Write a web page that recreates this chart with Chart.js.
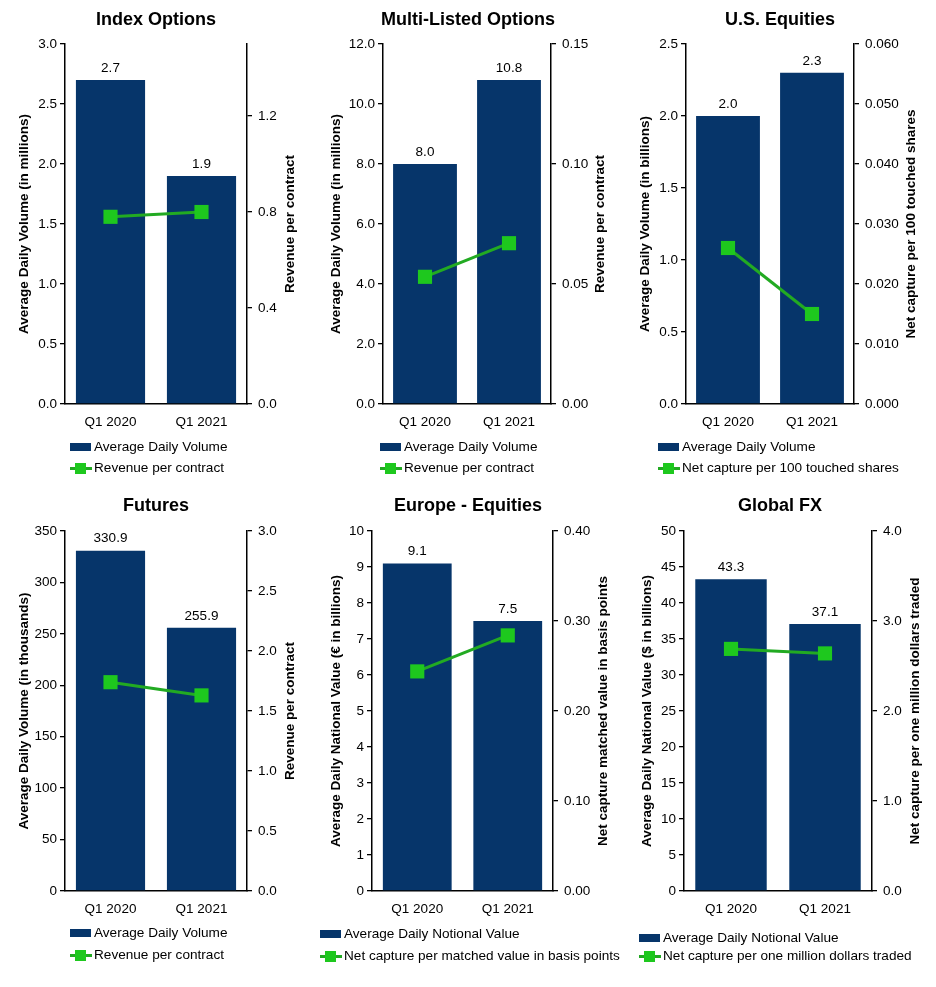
<!DOCTYPE html>
<html><head><meta charset="utf-8">
<script src="https://cdn.jsdelivr.net/npm/chart.js@4"></script>
<style>
body{margin:0;background:#fff;width:936px;height:987px;position:relative;overflow:hidden;font-family:Arial,"Liberation Sans",sans-serif;}
canvas{position:absolute;}
.leg{position:absolute;font-size:13.6px;color:#000;white-space:nowrap;line-height:16px;}
.sw{position:absolute;}
</style></head><body>
<script>
// ---- data ----
const categories = ['Q1 2020', 'Q1 2021'];

const indexOptionsVolume = [2.7, 1.9];
const indexOptionsRevenue = [0.78, 0.80];
const multiListedVolume = [8.0, 10.8];
const multiListedRevenue = [0.053, 0.067];
const usEquitiesVolume = [2.0, 2.3];
const usEquitiesCapture = [0.026, 0.015];
const futuresVolume = [330.9, 255.9];
const futuresRevenue = [1.74, 1.63];
const europeValue = [9.1, 7.5];
const europeCapture = [0.244, 0.284];
const fxValue = [43.3, 37.1];
const fxCapture = [2.69, 2.64];

const indexLeftTicks = [0, 0.5, 1.0, 1.5, 2.0, 2.5, 3.0];
const indexRightTicks = [0, 0.4, 0.8, 1.2];
const multiLeftTicks = [0, 2, 4, 6, 8, 10, 12];
const multiRightTicks = [0, 0.05, 0.10, 0.15];
const usLeftTicks = [0, 0.5, 1.0, 1.5, 2.0, 2.5];
const usRightTicks = [0, 0.01, 0.02, 0.03, 0.04, 0.05, 0.06];
const futuresLeftTicks = [0, 50, 100, 150, 200, 250, 300, 350];
const futuresRightTicks = [0, 0.5, 1.0, 1.5, 2.0, 2.5, 3.0];
const europeLeftTicks = [0, 1, 2, 3, 4, 5, 6, 7, 8, 9, 10];
const europeRightTicks = [0, 0.10, 0.20, 0.30, 0.40];
const fxLeftTicks = [0, 5, 10, 15, 20, 25, 30, 35, 40, 45, 50];
const fxRightTicks = [0, 1.0, 2.0, 3.0, 4.0];

// ---- panel layout ----
const BAR_COLOR = '#06356a';
const LINE_COLOR = '#22aa22';
const MARK_COLOR = '#1ec81e';

const panels = [
  {title:'Index Options', x:0, y:0, h:440, titleTop:9.2, titleBottom:13.2, leftW:65, rightW:65,
   leftMax:3.0, rightMax:1.5, leftTicks:indexLeftTicks, rightTicks:indexRightTicks, leftDec:1, rightDec:1,
   leftTitle:'Average Daily Volume (in millions)', rightTitle:'Revenue per contract', ltx:24, rtx:290,
   bars:indexOptionsVolume, line:indexOptionsRevenue, barLabel:'Average Daily Volume', lineLabel:'Revenue per contract',
   legX:70, legRectY:447, legLineY:468},
  {title:'Multi-Listed Options', x:312, y:0, h:440, titleTop:9.2, titleBottom:13.2, leftW:71, rightW:73,
   leftMax:12, rightMax:0.15, leftTicks:multiLeftTicks, rightTicks:multiRightTicks, leftDec:1, rightDec:2,
   leftTitle:'Average Daily Volume (in millions)', rightTitle:'Revenue per contract', ltx:24, rtx:288,
   bars:multiListedVolume, line:multiListedRevenue, barLabel:'Average Daily Volume', lineLabel:'Revenue per contract',
   legX:380, legRectY:447, legLineY:468},
  {title:'U.S. Equities', x:624, y:0, h:440, titleTop:9.2, titleBottom:13.2, leftW:62, rightW:82,
   leftMax:2.5, rightMax:0.06, leftTicks:usLeftTicks, rightTicks:usRightTicks, leftDec:1, rightDec:3,
   leftTitle:'Average Daily Volume (in billions)', rightTitle:'Net capture per 100 touched shares', ltx:21, rtx:287,
   bars:usEquitiesVolume, line:usEquitiesCapture, barLabel:'Average Daily Volume', lineLabel:'Net capture per 100 touched shares',
   legX:658, legRectY:447, legLineY:468},
  {title:'Futures', x:0, y:490, h:437, titleTop:4.9, titleBottom:14.5, leftW:65, rightW:65,
   leftMax:350, rightMax:3.0, leftTicks:futuresLeftTicks, rightTicks:futuresRightTicks, leftDec:0, rightDec:1,
   leftTitle:'Average Daily Volume (in thousands)', rightTitle:'Revenue per contract', ltx:24, rtx:290,
   bars:futuresVolume, line:futuresRevenue, barLabel:'Average Daily Volume', lineLabel:'Revenue per contract',
   legX:70, legRectY:933, legLineY:955},
  {title:'Europe - Equities', x:312, y:490, h:437, titleTop:4.9, titleBottom:14.5, leftW:60, rightW:71,
   leftMax:10, rightMax:0.40, leftTicks:europeLeftTicks, rightTicks:europeRightTicks, leftDec:0, rightDec:2,
   leftTitle:'Average Daily National Value (€ in billions)', rightTitle:'Net capture matched value in basis points', ltx:24, rtx:291,
   bars:europeValue, line:europeCapture, barLabel:'Average Daily Notional Value', lineLabel:'Net capture per matched value in basis points',
   legX:320, legRectY:934, legLineY:956},
  {title:'Global FX', x:624, y:490, h:437, titleTop:4.9, titleBottom:14.5, leftW:60, rightW:64,
   leftMax:50, rightMax:4.0, leftTicks:fxLeftTicks, rightTicks:fxRightTicks, leftDec:0, rightDec:1,
   leftTitle:'Average Daily National Value ($ in billions)', rightTitle:'Net capture per one million dollars traded', ltx:23, rtx:291,
   bars:fxValue, line:fxCapture, barLabel:'Average Daily Notional Value', lineLabel:'Net capture per one million dollars traded',
   legX:639, legRectY:938, legLineY:956}
];

const FONT = 'Arial, "Liberation Sans", sans-serif';
Chart.defaults.font.family = FONT;
Chart.defaults.color = '#000';

const extrasPlugin = {
  id: 'extras',
  afterDatasetsDraw(chart, args, opts) {
    const ctx = chart.ctx;
    const meta = chart.getDatasetMeta(0);
    ctx.save();
    ctx.font = '13.5px ' + FONT;
    ctx.fillStyle = '#000';
    ctx.textAlign = 'center';
    ctx.textBaseline = 'middle';
    meta.data.forEach((el, i) => {
      const v = chart.data.datasets[0].data[i];
      ctx.fillText(v.toFixed(1), el.x, el.y - 12);
    });
    ctx.restore();
  },
  afterDraw(chart, args, opts) {
    const ctx = chart.ctx;
    const ca = chart.chartArea;
    const cy = (ca.top + ca.bottom) / 2;
    ctx.save();
    ctx.font = 'bold 13.5px ' + FONT;
    ctx.fillStyle = '#000';
    ctx.textAlign = 'center';
    ctx.textBaseline = 'middle';
    [[opts.ltx, opts.leftTitle], [opts.rtx, opts.rightTitle]].forEach(([x, t]) => {
      ctx.save();
      ctx.translate(x, cy);
      ctx.rotate(-Math.PI / 2);
      ctx.fillText(t, 0, 0);
      ctx.restore();
    });
    ctx.restore();
  }
};

function yScale(p, side) {
  const left = side === 'left';
  const ticks = left ? p.leftTicks : p.rightTicks;
  const dec = left ? p.leftDec : p.rightDec;
  return {
    position: side,
    min: 0,
    max: left ? p.leftMax : p.rightMax,
    afterBuildTicks(s) { s.ticks = ticks.map(v => ({value: v})); },
    afterFit(s) { s.width = left ? p.leftW : p.rightW; },
    ticks: { callback: v => Number(v).toFixed(dec), color: '#000', font: {size: 13.5}, padding: left ? 3 : 6 },
    grid: { drawOnChartArea: false, drawTicks: true, tickLength: 5, color: '#000', lineWidth: 1.3 },
    border: { display: true, color: '#000', width: 1.5 }
  };
}

panels.forEach(p => {
  const c = document.createElement('canvas');
  c.width = 312; c.height = p.h;
  c.style.left = p.x + 'px'; c.style.top = p.y + 'px';
  c.style.width = '312px'; c.style.height = p.h + 'px';
  document.body.appendChild(c);

  new Chart(c, {
    data: {
      labels: categories,
      datasets: [
        { type: 'bar', label: p.barLabel, data: p.bars, yAxisID: 'y', backgroundColor: BAR_COLOR,
          barPercentage: 0.76, categoryPercentage: 1, order: 1 },
        { type: 'line', label: p.lineLabel, data: p.line, yAxisID: 'y1', borderColor: LINE_COLOR, borderWidth: 3,
          pointStyle: 'rect', pointRadius: 10, pointHoverRadius: 10, pointBackgroundColor: MARK_COLOR,
          pointBorderColor: MARK_COLOR, pointBorderWidth: 0, fill: false, tension: 0, order: 0 }
      ]
    },
    options: {
      responsive: false,
      animation: false,
      layout: { padding: 0 },
      plugins: {
        legend: { display: false },
        tooltip: { enabled: false },
        title: { display: true, text: p.title, color: '#000', font: {size: 18, weight: 'bold'},
                 padding: {top: p.titleTop, bottom: p.titleBottom} },
        extras: { ltx: p.ltx, rtx: p.rtx, leftTitle: p.leftTitle, rightTitle: p.rightTitle }
      },
      scales: {
        x: {
          type: 'category', offset: true,
          grid: { display: false, drawTicks: false },
          border: { display: true, color: '#000', width: 1.5 },
          ticks: { color: '#000', font: {size: 13.5}, padding: 10 },
          afterFit(s) { s.height = p.h - (p.y === 0 ? 404 : 401); }
        },
        y: yScale(p, 'left'),
        y1: yScale(p, 'right')
      }
    },
    plugins: [extrasPlugin]
  });

  // legend (HTML)
  const rect = document.createElement('div');
  rect.className = 'sw';
  rect.style.cssText = `left:${p.legX}px;top:${p.legRectY - 4}px;width:21px;height:8px;background:${BAR_COLOR};`;
  document.body.appendChild(rect);
  const t1 = document.createElement('div');
  t1.className = 'leg';
  t1.style.left = (p.legX + 24) + 'px'; t1.style.top = (p.legRectY - 8) + 'px';
  t1.textContent = p.barLabel;
  document.body.appendChild(t1);

  const ln = document.createElement('div');
  ln.className = 'sw';
  ln.style.cssText = `left:${p.legX}px;top:${p.legLineY - 1.5}px;width:22px;height:3px;background:${LINE_COLOR};`;
  document.body.appendChild(ln);
  const sq = document.createElement('div');
  sq.className = 'sw';
  sq.style.cssText = `left:${p.legX + 5}px;top:${p.legLineY - 5.5}px;width:11px;height:11px;background:${MARK_COLOR};`;
  document.body.appendChild(sq);
  const t2 = document.createElement('div');
  t2.className = 'leg';
  t2.style.left = (p.legX + 24) + 'px'; t2.style.top = (p.legLineY - 8) + 'px';
  t2.textContent = p.lineLabel;
  document.body.appendChild(t2);
});
</script>
</body></html>
